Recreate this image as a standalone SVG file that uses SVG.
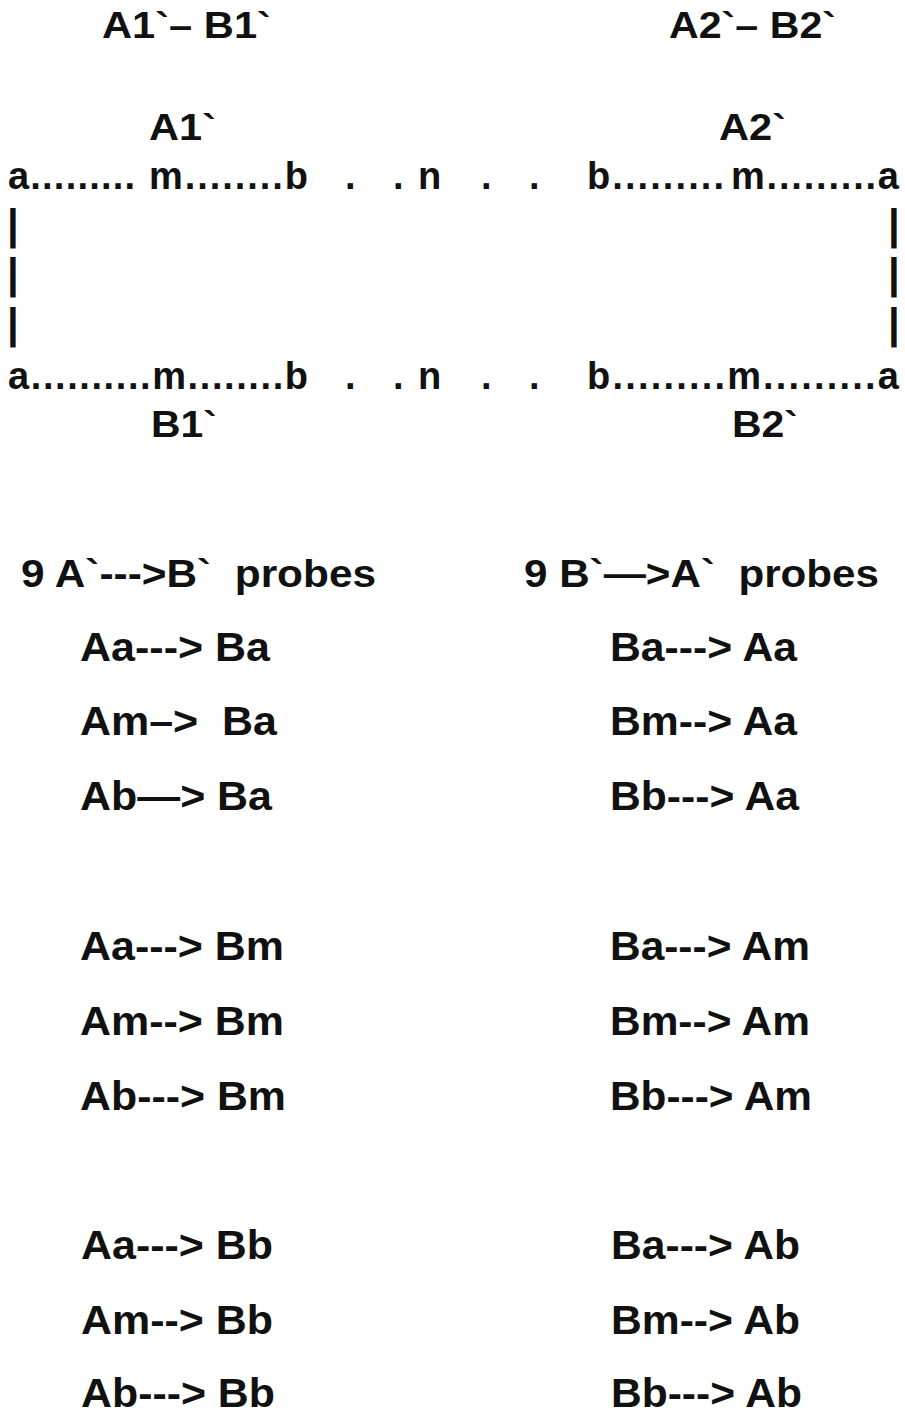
<svg xmlns="http://www.w3.org/2000/svg" width="905" height="1413" viewBox="0 0 905 1413" xml:space="preserve">
<style>
text{font-family:"Liberation Sans",Arial,sans-serif;font-weight:bold;fill:#111111;white-space:pre}
.h{font-size:36px}
.r{font-size:38px}
.p{font-size:40px}
.bar{font-size:42px;text-anchor:middle}
</style>
<rect width="905" height="1413" fill="#ffffff"/>
<g id="titles">
<text class="h" x="102" y="38" textLength="169" lengthAdjust="spacingAndGlyphs">A1`– B1`</text>
<text class="h" x="669" y="38" textLength="167" lengthAdjust="spacingAndGlyphs">A2`– B2`</text>
</g>
<g id="strand-top">
<text class="h" x="149" y="140" textLength="67" lengthAdjust="spacingAndGlyphs">A1`</text>
<text class="h" x="719" y="140" textLength="67" lengthAdjust="spacingAndGlyphs">A2`</text>
<text class="r" x="8" y="189" textLength="127" lengthAdjust="spacing">a.........</text>
<text class="r" x="149" y="189" textLength="159" lengthAdjust="spacing">m........b</text>
<text class="r" x="345" y="189">.</text>
<text class="r" x="393" y="189">.</text>
<text class="r" x="418" y="189">n</text>
<text class="r" x="481" y="189">.</text>
<text class="r" x="529" y="189">.</text>
<text class="r" x="587" y="189" textLength="137" lengthAdjust="spacing">b.........</text>
<text class="r" x="731" y="189" textLength="168" lengthAdjust="spacing">m.........a</text>
</g>
<g id="connectors">
<text class="bar" x="13" y="239">|</text>
<text class="bar" x="13" y="288">|</text>
<text class="bar" x="13" y="338">|</text>
<text class="bar" x="894" y="239">|</text>
<text class="bar" x="894" y="288">|</text>
<text class="bar" x="894" y="338">|</text>
</g>
<g id="strand-bottom">
<text class="r" x="8" y="389" textLength="300" lengthAdjust="spacing">a..........m........b</text>
<text class="r" x="345" y="389">.</text>
<text class="r" x="393" y="389">.</text>
<text class="r" x="418" y="389">n</text>
<text class="r" x="481" y="389">.</text>
<text class="r" x="529" y="389">.</text>
<text class="r" x="587" y="389" textLength="312" lengthAdjust="spacing">b.........m.........a</text>
<text class="h" x="151" y="437" textLength="66" lengthAdjust="spacingAndGlyphs">B1`</text>
<text class="h" x="732" y="437" textLength="66" lengthAdjust="spacingAndGlyphs">B2`</text>
</g>
<g id="probes-left">
<text class="r" x="21" y="587" textLength="355" lengthAdjust="spacingAndGlyphs">9 A`---&gt;B`  probes</text>
<text class="p" x="80" y="661" textLength="190" lengthAdjust="spacingAndGlyphs">Aa---&gt; Ba</text>
<text class="p" x="80" y="735" textLength="197" lengthAdjust="spacingAndGlyphs">Am–&gt;  Ba</text>
<text class="p" x="80" y="810" textLength="192" lengthAdjust="spacingAndGlyphs">Ab—&gt; Ba</text>
<text class="p" x="80" y="960" textLength="204" lengthAdjust="spacingAndGlyphs">Aa---&gt; Bm</text>
<text class="p" x="80" y="1035" textLength="204" lengthAdjust="spacingAndGlyphs">Am--&gt; Bm</text>
<text class="p" x="80" y="1110" textLength="206" lengthAdjust="spacingAndGlyphs">Ab---&gt; Bm</text>
<text class="p" x="81" y="1259" textLength="192" lengthAdjust="spacingAndGlyphs">Aa---&gt; Bb</text>
<text class="p" x="81" y="1334" textLength="192" lengthAdjust="spacingAndGlyphs">Am--&gt; Bb</text>
<text class="p" x="81" y="1407" textLength="194" lengthAdjust="spacingAndGlyphs">Ab---&gt; Bb</text>
</g>
<g id="probes-right">
<text class="r" x="524" y="587" textLength="355" lengthAdjust="spacingAndGlyphs">9 B`—&gt;A`  probes</text>
<text class="p" x="610" y="661" textLength="187" lengthAdjust="spacingAndGlyphs">Ba---&gt; Aa</text>
<text class="p" x="610" y="735" textLength="187" lengthAdjust="spacingAndGlyphs">Bm--&gt; Aa</text>
<text class="p" x="610" y="810" textLength="189" lengthAdjust="spacingAndGlyphs">Bb---&gt; Aa</text>
<text class="p" x="610" y="960" textLength="200" lengthAdjust="spacingAndGlyphs">Ba---&gt; Am</text>
<text class="p" x="610" y="1035" textLength="200" lengthAdjust="spacingAndGlyphs">Bm--&gt; Am</text>
<text class="p" x="610" y="1110" textLength="202" lengthAdjust="spacingAndGlyphs">Bb---&gt; Am</text>
<text class="p" x="611" y="1259" textLength="189" lengthAdjust="spacingAndGlyphs">Ba---&gt; Ab</text>
<text class="p" x="611" y="1334" textLength="189" lengthAdjust="spacingAndGlyphs">Bm--&gt; Ab</text>
<text class="p" x="611" y="1407" textLength="191" lengthAdjust="spacingAndGlyphs">Bb---&gt; Ab</text>
</g>
</svg>
